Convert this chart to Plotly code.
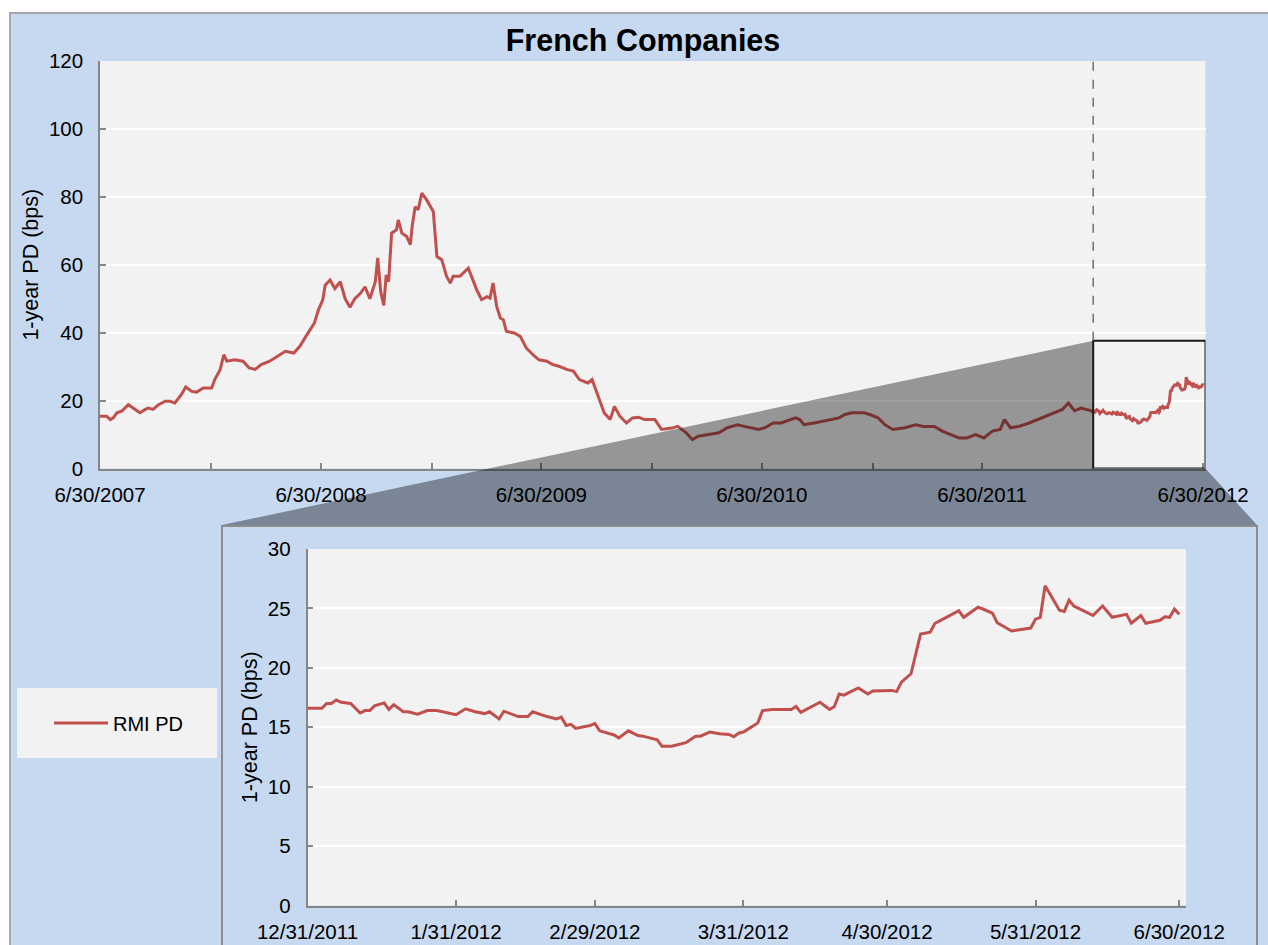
import pandas as pd
import plotly.graph_objects as go

# ---------------- data ----------------
# 1-year PD (bps), full history: days after 2007-06-30
main_start = "2007-06-30"
main_days = [0, 11, 17, 22, 28, 36, 47, 55, 66, 75,
             80, 88, 97, 108, 116, 124, 135, 142, 152, 160,
             171, 185, 190, 199, 205, 210, 223, 237, 247, 257,
             267, 281, 294, 307, 321, 331, 341, 355, 362, 369,
             373, 381, 389, 398, 406, 414, 422, 431, 439, 447,
             456, 460, 465, 470, 474, 478, 483, 491, 494, 500,
             508, 514, 517, 522, 527, 533, 541, 552, 558, 566,
             574, 580, 585, 596, 610, 616, 624, 632, 641, 646,
             651, 657, 663, 668, 673, 686, 696, 706, 717, 727,
             740, 750, 760, 774, 784, 794, 808, 815, 825, 835,
             845, 852, 861, 872, 882, 892, 902, 919, 930, 947,
             957, 971, 981, 991, 1008, 1025, 1039, 1056, 1067, 1080,
             1091, 1101, 1115, 1128, 1142, 1152, 1159, 1166, 1183, 1197,
             1214, 1224, 1234, 1245, 1265, 1275, 1289, 1300, 1313, 1333,
             1351, 1364, 1382, 1395, 1409, 1423, 1436, 1450, 1464, 1478,
             1491, 1498, 1508, 1522, 1539, 1553, 1566, 1580, 1594, 1604,
             1614, 1625, 1642]
main_pd = [15.4, 15.4, 14.4, 14.9, 16.4, 16.9, 18.8, 17.8, 16.4, 17.4,
           17.8, 17.4, 18.8, 19.8, 19.8, 19.3, 21.8, 24.0, 22.7, 22.5,
           23.7, 23.7, 26.2, 29.1, 33.5, 31.6, 32.0, 31.6, 29.6, 29.2,
           30.6, 31.6, 33.0, 34.5, 34.0, 36.0, 38.9, 42.8, 46.8, 49.7,
           54.0, 55.5, 53.0, 55.0, 50.0, 47.5, 50.0, 51.5, 53.5, 50.0,
           55.0, 62.0, 52.0, 48.0, 57.0, 55.0, 69.3, 70.3, 73.2, 69.3,
           68.3, 65.9, 71.3, 77.1, 76.2, 81.1, 79.1, 75.7, 62.4, 61.5,
           56.6, 54.6, 56.6, 56.6, 59.0, 56.3, 52.6, 49.7, 50.6, 50.2,
           54.6, 47.7, 44.3, 43.8, 40.4, 39.9, 38.9, 35.5, 33.5, 32.0,
           31.6, 30.6, 30.1, 29.1, 28.7, 26.2, 25.2, 26.2, 21.3, 16.4,
           14.4, 18.3, 15.4, 13.4, 14.9, 15.1, 14.4, 14.4, 11.5, 11.9,
           12.4, 10.5, 8.5, 9.5, 10.0, 10.5, 12.0, 12.9, 12.4, 12.0,
           11.5, 12.0, 13.4, 13.4, 14.4, 14.9, 14.4, 12.9, 13.4, 13.9,
           14.4, 14.9, 15.9, 16.4, 16.4, 15.9, 14.9, 12.9, 11.5, 12.0,
           12.9, 12.4, 12.4, 11.0, 10.0, 9.0, 9.0, 10.0, 9.0, 11.0,
           11.5, 14.4, 12.0, 12.4, 13.4, 14.4, 15.4, 16.4, 17.4, 19.3,
           17.0, 17.8, 17.0]

# zoomed period: days after 2011-12-31
zoom_start = "2011-12-31"
zoom_days = [0, 3, 4, 5, 6, 7, 9, 11, 12, 13,
             14, 16, 17, 18, 20, 21, 23, 25, 27, 30,
             31, 33, 35, 37, 38, 40, 41, 44, 46, 47,
             48, 50, 52, 53, 54, 55, 56, 59, 60, 61,
             64, 65, 67, 68, 69, 70, 73, 74, 76, 79,
             81, 82, 84, 86, 88, 89, 90, 91, 94, 95,
             97, 101, 102, 103, 105, 107, 109, 110, 111, 112,
             115, 117, 118, 121, 122, 123, 124, 126, 128, 130,
             131, 132, 134, 136, 137, 140, 141, 143, 144, 147,
             151, 152, 153, 154, 157, 158, 159, 160, 161, 164,
             166, 168, 171, 172, 174, 175, 178, 179, 180, 181,
             182]
zoom_pd = [16.6, 16.6, 17.0, 17.0, 17.3, 17.1, 17.0, 16.2, 16.4, 16.4,
           16.8, 17.05, 16.5, 16.9, 16.3, 16.3, 16.1, 16.4, 16.4, 16.1,
           16.05, 16.55, 16.3, 16.15, 16.3, 15.7, 16.35, 15.9, 15.9, 16.3,
           16.15, 15.9, 15.7, 15.85, 15.15, 15.25, 14.9, 15.15, 15.3, 14.7,
           14.35, 14.1, 14.7, 14.5, 14.3, 14.25, 13.95, 13.4, 13.4, 13.7,
           14.25, 14.25, 14.6, 14.45, 14.4, 14.2, 14.5, 14.6, 15.35, 16.4,
           16.5, 16.5, 16.75, 16.25, 16.7, 17.1, 16.5, 16.75, 17.8, 17.7,
           18.3, 17.8, 18.05, 18.1, 18.1, 18.0, 18.8, 19.5, 22.85, 23.0,
           23.75, 23.95, 24.4, 24.8, 24.25, 25.1, 24.95, 24.6, 23.8, 23.1,
           23.35, 24.1, 24.25, 26.9, 24.85, 24.75, 25.7, 25.2, 25.0, 24.4,
           25.2, 24.25, 24.5, 23.75, 24.4, 23.75, 24.0, 24.3, 24.25, 24.95,
           24.5]

series_name = "RMI PD"
y_title = "1-year PD (bps)"
chart_title = "French Companies"

main_tick_dates = ["2007-06-30", "2007-12-31", "2008-06-30", "2008-12-31",
                   "2009-06-30", "2009-12-31", "2010-06-30", "2010-12-31",
                   "2011-06-30", "2011-12-31", "2012-06-30"]
zoom_tick_dates = ["2011-12-31", "2012-01-31", "2012-02-29", "2012-03-31",
                   "2012-04-30", "2012-05-31", "2012-06-30"]
main_yticks = [0, 20, 40, 60, 80, 100, 120]
zoom_yticks = [0, 5, 10, 15, 20, 25, 30]
zoom_box_top = 37.6

# ---------------- derived series ----------------
main_dates = pd.Timestamp(main_start) + pd.to_timedelta(main_days, unit="D")
zoom_dates = pd.Timestamp(zoom_start) + pd.to_timedelta(zoom_days, unit="D")
all_dates = list(main_dates) + list(zoom_dates)
all_pd = main_pd + zoom_pd


def fmt(d):
    d = pd.Timestamp(d)
    return f"{d.month}/{d.day}/{d.year}"


main_ticktext = [fmt(d) if pd.Timestamp(d).month == 6 else "" for d in main_tick_dates]
zoom_ticktext = [fmt(d) for d in zoom_tick_dates]

# ---------------- layout geometry (pixels) ----------------
W, H = 1268, 945
MAIN_L, MAIN_R, MAIN_T, MAIN_B = 100, 1205.5, 61, 468.5
INS_L, INS_R, INS_T, INS_B = 307.5, 1186, 549, 905.5
FRAME_L, FRAME_R, FRAME_T = 222, 1257, 525
main_r0 = pd.Timestamp("2007-06-30")
main_r1 = pd.Timestamp("2012-07-04")
zoom_r0 = pd.Timestamp(zoom_start)
zoom_r1 = pd.Timestamp("2012-07-01 10:00")


def fx(px):
    return px / W


def fy(py):
    return 1 - py / H


def main_xpx(ts):
    return MAIN_L + (pd.Timestamp(ts) - main_r0) / (main_r1 - main_r0) * (MAIN_R - MAIN_L)


def main_ypx(v):
    return MAIN_B - v / 120 * (MAIN_B - MAIN_T)


RED = "#c0504d"
BLUE_BG = "#c6d9f0"
PLOT_BG = "#f2f2f2"
AXIS = "#868686"
FONT = "Liberation Sans, Arial, sans-serif"
TICK_SIZE = 20.5
TITLE_SIZE = 21.5

fig = go.Figure()
fig.add_trace(go.Scatter(x=all_dates, y=all_pd, mode="lines", name=series_name,
                         line=dict(color=RED, width=3), xaxis="x", yaxis="y",
                         showlegend=True))
sel = [i for i, d in enumerate(all_dates) if d >= zoom_r0]
fig.add_trace(go.Scatter(x=[all_dates[i] for i in sel], y=[all_pd[i] for i in sel],
                         mode="lines", name=series_name,
                         line=dict(color=RED, width=3), xaxis="x2", yaxis="y2",
                         showlegend=False))

axis_common = dict(showline=True, linecolor=AXIS, linewidth=1.5, ticks="inside",
                   ticklen=6, tickwidth=1.5, tickcolor=AXIS, automargin=False,
                   tickfont=dict(family=FONT, size=TICK_SIZE, color="#000000"))

shapes = []
# white outside the outer frame
shapes.append(dict(type="rect", xref="paper", yref="paper", x0=0, x1=1, y0=fy(13), y1=1,
                   fillcolor="white", line=dict(width=0), layer="below"))
shapes.append(dict(type="rect", xref="paper", yref="paper", x0=0, x1=fx(10), y0=0, y1=1,
                   fillcolor="white", line=dict(width=0), layer="below"))
shapes.append(dict(type="path", xref="paper", yref="paper",
                   path=f"M {fx(10)},0 L {fx(10)},{fy(13)} L 1,{fy(13)}",
                   line=dict(color="#a6a6a6", width=2), layer="below"))
# legend box
shapes.append(dict(type="rect", xref="paper", yref="paper", x0=fx(17), x1=fx(217),
                   y0=fy(758), y1=fy(688), fillcolor=PLOT_BG, line=dict(width=0), layer="below"))
# inset frame outline
shapes.append(dict(type="path", xref="paper", yref="paper",
                   path=f"M {fx(FRAME_L)},-0.05 L {fx(FRAME_L)},{fy(FRAME_T + 1)} "
                        f"L {fx(FRAME_R)},{fy(FRAME_T + 1)} L {fx(FRAME_R)},-0.05",
                   line=dict(color="#8c8c8c", width=2), layer="below"))
# translucent zoom connector
bx0 = main_xpx(zoom_r0)
bx1 = MAIN_R
by_top = main_ypx(zoom_box_top)
by_bot = MAIN_B
poly = (f"M {fx(bx0)},{fy(by_top)} L {fx(FRAME_L)},{fy(FRAME_T)} L {fx(FRAME_R)},{fy(FRAME_T)} "
        f"L {fx(bx1)},{fy(by_bot)} L {fx(bx0)},{fy(by_bot)} Z")
shapes.append(dict(type="path", xref="paper", yref="paper", path=poly,
                   fillcolor="rgba(0,0,0,0.38)", line=dict(width=0), layer="above"))
# zoom box and dashed marker
shapes.append(dict(type="rect", xref="x", yref="y", x0=zoom_r0, x1=main_r1, y0=0,
                   y1=zoom_box_top, line=dict(color="#1a1a1a", width=2), layer="above"))
shapes.append(dict(type="line", xref="x", yref="y", x0=zoom_r0, x1=zoom_r0,
                   y0=zoom_box_top, y1=120,
                   line=dict(color="#6e6e6e", width=1.5, dash="dash"), layer="above"))

fig.update_layout(
    width=W, height=H,
    margin=dict(l=0, r=0, t=0, b=0, pad=0),
    paper_bgcolor=BLUE_BG,
    plot_bgcolor=PLOT_BG,
    font=dict(family=FONT, size=TICK_SIZE, color="#000000"),
    title=dict(text=f"<b>{chart_title}</b>", x=643 / W, y=fy(40), xanchor="center",
               yanchor="middle", automargin=False,
               font=dict(family=FONT, size=30.5, color="#000000")),
    xaxis=dict(type="date", domain=[fx(MAIN_L), fx(MAIN_R)], range=[main_r0, main_r1],
               tickmode="array", tickvals=main_tick_dates, ticktext=main_ticktext,
               showgrid=False, zeroline=False, anchor="y", ticklabelstandoff=7,
               **axis_common),
    yaxis=dict(domain=[fy(MAIN_B), fy(MAIN_T)], range=[0, 120], tickmode="array",
               tickvals=main_yticks, showgrid=True, gridcolor="white", gridwidth=2,
               zeroline=False, anchor="x", ticklabelstandoff=11,
               title=dict(text=y_title, standoff=4, font=dict(family=FONT, size=TITLE_SIZE)),
               **axis_common),
    xaxis2=dict(type="date", domain=[fx(INS_L), fx(INS_R)], range=[zoom_r0, zoom_r1],
                tickmode="array", tickvals=zoom_tick_dates, ticktext=zoom_ticktext,
                showgrid=False, zeroline=False, anchor="y2", ticklabelstandoff=7,
                **axis_common),
    yaxis2=dict(domain=[fy(INS_B), fy(INS_T)], range=[0, 30], tickmode="array",
                tickvals=zoom_yticks, showgrid=True, gridcolor="white", gridwidth=2,
                zeroline=False, anchor="x2", ticklabelstandoff=11,
                title=dict(text=y_title, standoff=4, font=dict(family=FONT, size=TITLE_SIZE)),
                **axis_common),
    showlegend=True,
    legend=dict(x=fx(49), y=fy(723), xanchor="left", yanchor="middle",
                bgcolor="rgba(0,0,0,0)", borderwidth=0, itemwidth=54,
                font=dict(family=FONT, size=20, color="#000000")),
    shapes=shapes,
    hovermode=False,
)

fig.write_html("out.html",
               config={"displayModeBar": False},
               post_script="document.body.style.margin='0';"
                           "document.body.style.overflow='hidden';")
